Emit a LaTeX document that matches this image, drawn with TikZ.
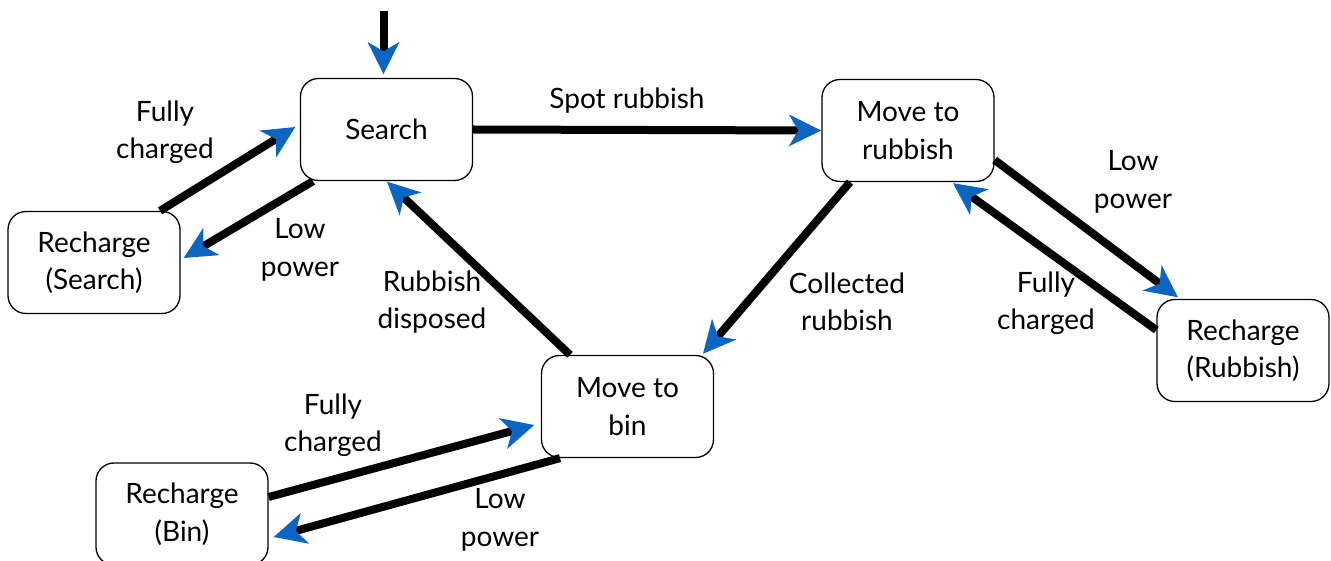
\documentclass[tikz,border=0pt]{standalone}
\usepackage{fontspec}
\setmainfont{Lato}
\usetikzlibrary{arrows.meta,calc}
\definecolor{tipblue}{HTML}{0A66C2}
\begin{document}
\begin{tikzpicture}[x=1pt,y=-1pt,
  state/.style={draw, line width=1.3pt, rounded corners=18pt,
    minimum width=172pt, minimum height=102pt, inner sep=0pt,
    align=center, font=\fontsize{28}{37.5}\selectfont},
  lbl/.style={align=center, inner sep=0pt, font=\fontsize{28}{37.5}\selectfont},
  trans/.style={line width=8pt,
    -{Stealth[length=32pt,width=31pt,inset=9pt,color=tipblue,fill=tipblue]}}]
\useasboundingbox (0,0) rectangle (1331,561);

% states
\node[state] (search)  at (386.5,129.5) {Search};
\node[state] (mrub)    at (908,130.5)   {Move to\\rubbish};
\node[state] (rsearch) at (94,262.5)    {Recharge\\(Search)};
\node[state] (mbin)    at (627.5,406.5) {Move to\\bin};
\node[state] (rbin)    at (182,514)     {Recharge\\(Bin)};
\node[state] (rrub)    at (1243,350.5)  {Recharge\\(Rubbish)};

% initial transition
\coordinate (init) at ($(search.north)+(-3,-67)$);
\draw[trans] (init) -- ($(search.north)+(-3,-3.5)$);

% transitions
\draw[trans] (search.east) -- (mrub.west);
\draw[trans] ($(rsearch.north)+(66,0)$) -- ($(search.west)+(-4.5,-2.5)$);
\draw[trans] ($(search.south)+(-73.5,0)$) -- ($(rsearch.east)+(3,-4.5)$);
\draw[trans] ($(mrub.south)+(-58,0)$) -- ($(mbin.north)+(75.5,-1)$);
\draw[trans] ($(mbin.north)+(-57.5,0)$) -- ($(search.south)+(0.5,0.5)$);
\draw[trans] ($(mrub.east)+(0,29.5)$) -- ($(rrub.north)+(-65,-1.5)$);
\draw[trans] ($(rrub.west)+(0,-20.5)$) -- ($(mrub.south)+(45,1)$);
\draw[trans] ($(rbin.east)+(0,-17)$) -- ($(mbin.west)+(-6.5,18.5)$);
\draw[trans] ($(mbin.south)+(-67.5,0)$) -- ($(rbin.east)+(5,23)$);

% transition labels
\node[lbl] (l1) at (627,101)  {Spot rubbish};
\node[lbl] (l2) at (165,132)  {Fully\\charged};
\node[lbl] (l3) at (300,250)  {Low\\power};
\node[lbl] (l4) at (847,302)  {Collected\\rubbish};
\node[lbl] (l5) at (432,302)  {Rubbish\\disposed};
\node[lbl] (l6) at (1133,182) {Low\\power};
\node[lbl] (l7) at (1046,303) {Fully\\charged};
\node[lbl] (l8) at (333,425)  {Fully\\charged};
\node[lbl] (l9) at (500,520)  {Low\\power};
\end{tikzpicture}
\end{document}
